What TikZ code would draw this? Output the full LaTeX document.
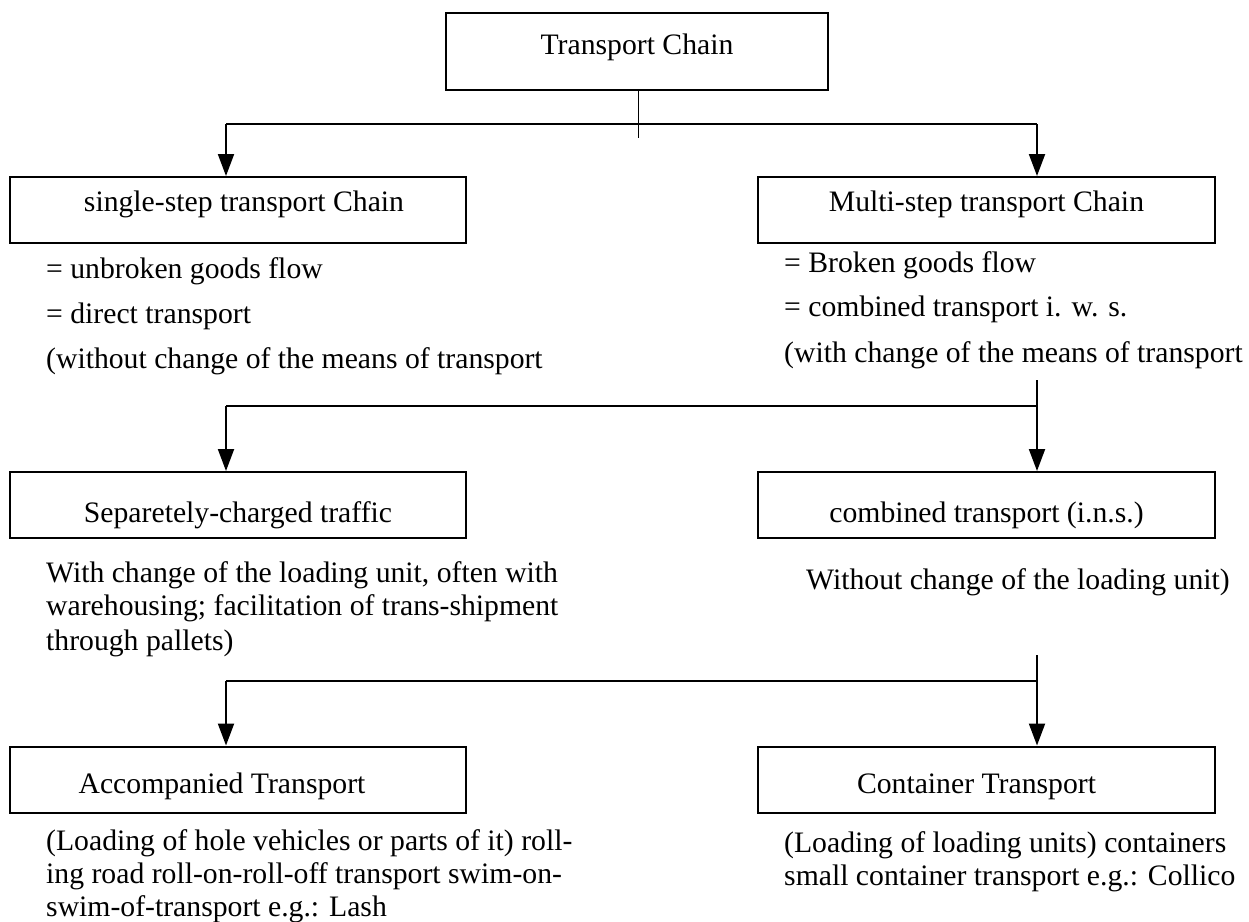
\documentclass[tikz,border=0pt]{standalone}
\usepackage{fontspec}
\setmainfont{Liberation Serif}
\usetikzlibrary{arrows.meta}
\begin{document}
\begin{tikzpicture}[x=1pt,y=-1pt,
  txt/.style={font=\fontsize{29.7}{33}\selectfont},
  box/.style={txt, draw, line width=2pt, minimum width=456pt, minimum height=66pt,
    inner sep=0pt, text height=20pt, text depth=7pt},
  note/.style={txt, anchor=base west, inner sep=0pt},
  link/.style={line width=2pt},
  arr/.style={line width=2pt, -{Triangle[length=22pt,width=16pt]}}]
\useasboundingbox (0,0) rectangle (1249,921);

% boxes
\node[box, minimum width=382pt, minimum height=77pt, text depth=15pt] (top) at (637,51.5) {Transport Chain};
\node[box, text depth=17pt] (single) at (238,210) {\hspace*{12pt}single-step transport Chain};
\node[box, text depth=17pt, minimum width=457pt] (multi) at (986.5,210) {Multi-step transport Chain};
\node[box, text height=42pt] (sep) at (238,505) {Separetely-charged traffic};
\node[box, text height=42pt, minimum width=457pt] (comb) at (986.5,505) {combined transport (i.n.s.)};
\node[box, text height=34pt] (acc) at (238,779.5) {Accompanied Transport\hspace*{32pt}};
\node[box, text height=34pt, minimum width=457pt] (cont) at (986.5,779.5) {Container Transport\hspace*{20pt}};

% notes under the single-step / multi-step boxes
\node[note] (s1) at (46,278) {= unbroken goods flow};
\node[note] (s2) at (46,323) {= direct transport};
\node[note] (s3) at (46,368) {(without change of the means of transport};
\node[note] (m1) at (784,272) {= Broken goods flow};
\node[note] (m2) at (784,316) {= combined transport i. w. s.};
\node[note] (m3) at (784,362) {(with change of the means of transport};

% notes under the second row
\node[note] (p1) at (46,582) {With change of the loading unit, often with};
\node[note] (p2) at (46,615) {warehousing; facilitation of trans-shipment};
\node[note] (p3) at (46,650) {through pallets)};
\node[note] (c1) at (806,589) {Without change of the loading unit)};

% notes under the third row
\node[note] (a1) at (46,850) {(Loading of hole vehicles or parts of it) roll-};
\node[note] (a2) at (46,883) {ing road roll-on-roll-off transport swim-on-};
\node[note] (a3) at (46,916) {swim-of-transport e.g.: Lash};
\node[note] (k1) at (784,852) {(Loading of loading units) containers};
\node[note] (k2) at (784,885) {small container transport e.g.: Collico};

% first branching
\coordinate (t1) at (638,138);
\coordinate (j1l) at (226,124);
\coordinate (j1r) at (1037,124);
\draw[line width=1pt] (top.south -| t1) -- (t1);
\draw[link] (j1l) -- (j1r);
\draw[arr] (j1l) -- (j1l |- single.north);
\draw[arr] (j1r) -- (j1r |- multi.north);

% second branching
\coordinate (s2top) at (1037,380);
\coordinate (j2l) at (226,406);
\coordinate (j2r) at (1037,406);
\draw[arr] (s2top) -- (s2top |- comb.north);
\draw[link] (j2r) -- (j2l);
\draw[arr] (j2l) -- (j2l |- sep.north);

% third branching
\coordinate (s3top) at (1037,655);
\coordinate (j3l) at (226,681);
\coordinate (j3r) at (1037,681);
\draw[arr] (s3top) -- (s3top |- cont.north);
\draw[link] (j3r) -- (j3l);
\draw[arr] (j3l) -- (j3l |- acc.north);
\end{tikzpicture}
\end{document}
